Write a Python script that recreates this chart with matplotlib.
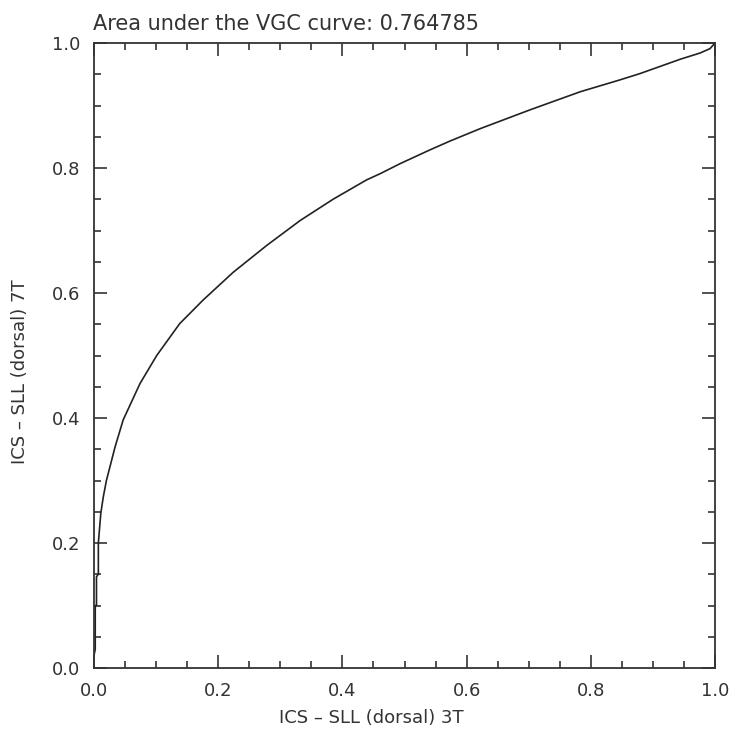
import matplotlib
matplotlib.use("Agg")
import matplotlib.pyplot as plt
from matplotlib.ticker import MultipleLocator

# VGC curve
x_3t = [0.000, 0.002, 0.002, 0.004, 0.004, 0.007, 0.007, 0.011, 0.015, 0.020,
        0.034, 0.047, 0.074, 0.101, 0.138, 0.176, 0.224, 0.278, 0.332, 0.385,
        0.439, 0.461, 0.493, 0.541, 0.573, 0.622, 0.702, 0.783, 0.847, 0.879,
        0.944, 0.976, 0.992, 1.000]
y_7t = [0.020, 0.030, 0.100, 0.100, 0.146, 0.150, 0.200, 0.248, 0.274, 0.300,
        0.354, 0.397, 0.455, 0.500, 0.551, 0.589, 0.633, 0.676, 0.716, 0.750,
        0.781, 0.791, 0.807, 0.829, 0.843, 0.863, 0.893, 0.922, 0.941, 0.951,
        0.974, 0.984, 0.991, 1.000]

title = "Area under the VGC curve: 0.764785"
xlab = "ICS \u2013 SLL (dorsal) 3T"
ylab = "ICS \u2013 SLL (dorsal) 7T"
ticks = [0.0, 0.2, 0.4, 0.6, 0.8, 1.0]

plt.rcParams['font.family'] = 'DejaVu Sans'
txt = '#333333'

fig = plt.figure(figsize=(7.36, 7.31), dpi=100)
ax = fig.add_axes([94/736, 63/731, 621/736, 625/731])

ax.plot(x_3t, y_7t, color='#222222', lw=1.2)

ax.set_xlim(0, 1)
ax.set_ylim(0, 1)
ax.set_xticks(ticks)
ax.set_yticks(ticks)
ax.set_xticklabels(['%.1f' % t for t in ticks])
ax.set_yticklabels(['%.1f' % t for t in ticks])
ax.xaxis.set_minor_locator(MultipleLocator(0.05))
ax.yaxis.set_minor_locator(MultipleLocator(0.05))
ax.tick_params(which='both', direction='in', top=True, right=True,
               color='#333333', width=1.2, labelsize=13, labelcolor=txt)
ax.tick_params(which='major', length=9.5, pad=10)
ax.tick_params(which='minor', length=5)
for s in ax.spines.values():
    s.set_linewidth(1.3)
    s.set_color('#333333')

fig.text(286/736, 1 - 24/731, title, ha='center', va='center', fontsize=15, color=txt)
fig.text(371/736, 1 - 718/731, xlab, ha='center', va='center', fontsize=13, color=txt)
fig.text(20/736, 1 - 372/731, ylab, ha='center', va='center', rotation=90, fontsize=13, color=txt)

plt.savefig("out.png", dpi=100)
